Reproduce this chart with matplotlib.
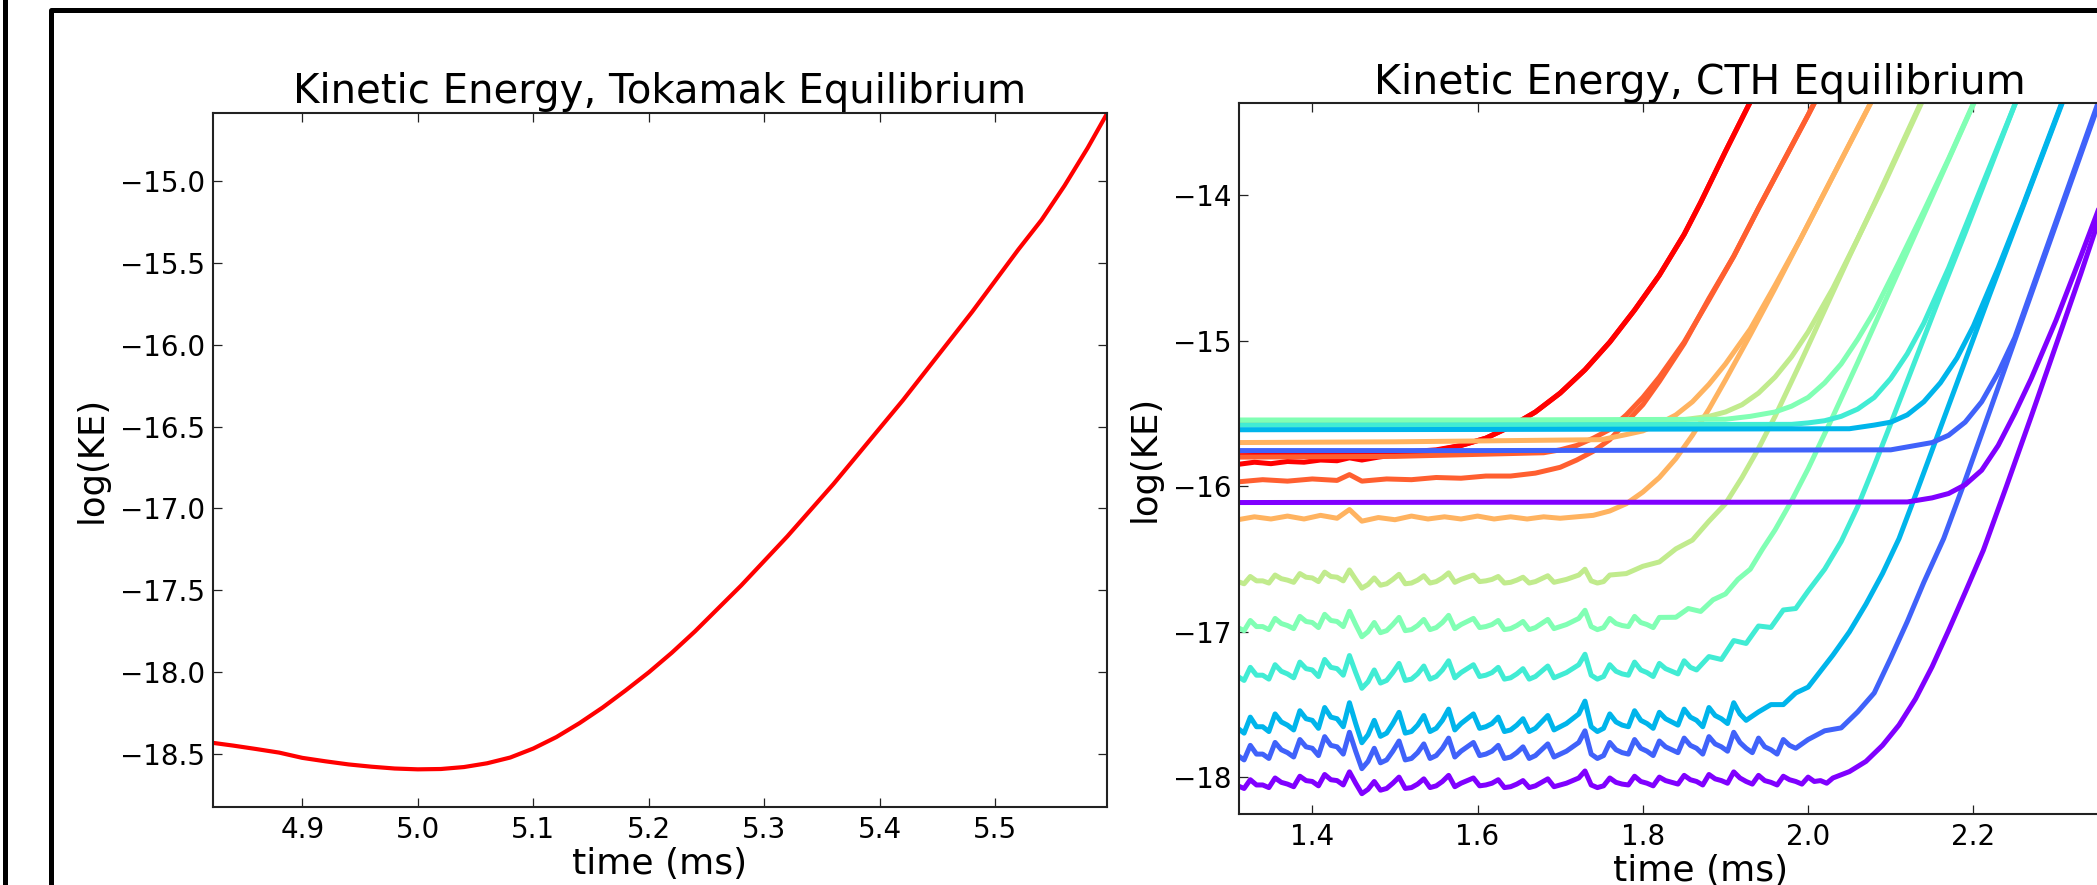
import matplotlib
matplotlib.use('Agg')
import matplotlib.pyplot as plt
from matplotlib.lines import Line2D

# ---- left panel: tokamak equilibrium ----
tok_t = [4.82, 4.84, 4.86, 4.88, 4.90, 4.92, 4.94, 4.96, 4.98, 5.00, 5.02, 5.04, 5.06, 5.08,
         5.10, 5.12, 5.14, 5.16, 5.18, 5.20, 5.22, 5.24, 5.26, 5.28, 5.30, 5.32, 5.34, 5.36,
         5.38, 5.40, 5.42, 5.44, 5.46, 5.48, 5.50, 5.52, 5.54, 5.56, 5.58, 5.60]
tok_ke = [-18.428, -18.447, -18.468, -18.49, -18.522, -18.543, -18.562, -18.576, -18.587, -18.592,
          -18.590, -18.578, -18.555, -18.52, -18.465, -18.395, -18.31, -18.215, -18.11, -18.0,
          -17.88, -17.75, -17.61, -17.47, -17.32, -17.17, -17.01, -16.85, -16.68, -16.51,
          -16.34, -16.16, -15.98, -15.80, -15.61, -15.42, -15.24, -15.03, -14.80, -14.55]

# ---- right panel: CTH equilibrium, one colour per run, two traces per run ----
# sample times of the noisy plateaus
fine_t = [1.3100, 1.3175, 1.3250, 1.3325, 1.3400, 1.3475, 1.3550, 1.3625, 1.3700, 1.3775,
          1.3850, 1.3925, 1.4000, 1.4075, 1.4150, 1.4225, 1.4300, 1.4375, 1.4450, 1.4525,
          1.4600, 1.4675, 1.4750, 1.4825, 1.4900, 1.4975, 1.5050, 1.5125, 1.5200, 1.5275,
          1.5350, 1.5425, 1.5500, 1.5575, 1.5650, 1.5725, 1.5800, 1.5875, 1.5950, 1.6025,
          1.6100, 1.6175, 1.6250, 1.6325, 1.6400, 1.6475, 1.6550, 1.6625, 1.6700, 1.6775,
          1.6850, 1.6925, 1.7000, 1.7075, 1.7150, 1.7225, 1.7300, 1.7375, 1.7450, 1.7525,
          1.7600, 1.7675, 1.7750, 1.7825, 1.7900, 1.7975, 1.8050, 1.8125, 1.8200, 1.8275,
          1.8350, 1.8425, 1.8500, 1.8575, 1.8650, 1.8725, 1.8800, 1.8875, 1.8950, 1.9025,
          1.9100, 1.9175, 1.9250, 1.9325, 1.9400, 1.9475, 1.9550, 1.9625, 1.9700, 1.9775,
          1.9850, 1.9925, 2.0000, 2.0075, 2.0150, 2.0225, 2.0300]

# red (1.0)
red_noisy_t = [1.31, 1.33, 1.35, 1.37, 1.39, 1.41, 1.43, 1.445, 1.46, 1.48, 1.50, 1.52, 1.55, 1.58,
               1.61, 1.64, 1.67, 1.70, 1.73, 1.76, 1.79, 1.82, 1.85, 1.87, 1.90, 1.93, 1.96]
red_noisy_y = [-15.85, -15.835, -15.845, -15.83, -15.835, -15.82, -15.825, -15.805, -15.82, -15.80,
               -15.785, -15.775, -15.755, -15.72, -15.67, -15.59, -15.49, -15.36, -15.20, -15.01,
               -14.79, -14.55, -14.27, -14.05, -13.70, -13.36, -13.02]
red_flat_t = [1.31, 1.40, 1.45, 1.50, 1.55, 1.58, 1.61, 1.64, 1.67, 1.70, 1.73, 1.76, 1.79, 1.82,
              1.85, 1.87, 1.90, 1.93, 1.96]
red_flat_y = [-15.79, -15.785, -15.78, -15.77, -15.75, -15.72, -15.67, -15.59, -15.49, -15.36,
              -15.20, -15.01, -14.79, -14.55, -14.27, -14.05, -13.70, -13.36, -13.02]

# orange-red (0.875)
or_noisy_t = [1.31, 1.34, 1.37, 1.40, 1.43, 1.445, 1.46, 1.49, 1.52, 1.55, 1.58, 1.61, 1.64, 1.67,
              1.70, 1.72, 1.74, 1.76, 1.78, 1.80, 1.82, 1.85, 1.88, 1.91, 1.94, 1.97, 2.00, 2.03]
or_noisy_y = [-15.97, -15.955, -15.965, -15.95, -15.96, -15.92, -15.965, -15.95, -15.955, -15.94,
              -15.945, -15.93, -15.93, -15.91, -15.87, -15.82, -15.76, -15.68, -15.56, -15.44,
              -15.28, -15.02, -14.71, -14.42, -14.09, -13.77, -13.45, -13.12]
or_flat_t = [1.31, 1.50, 1.68, 1.70, 1.72, 1.74, 1.76, 1.78, 1.80, 1.82, 1.85, 1.88, 1.91, 1.94,
             1.97, 2.00, 2.03]
or_flat_y = [-15.80, -15.795, -15.77, -15.75, -15.72, -15.67, -15.61, -15.51, -15.39, -15.25,
             -15.01, -14.72, -14.42, -14.09, -13.77, -13.45, -13.12]

# light orange (0.75)
lo_noisy_t = [1.31, 1.33, 1.35, 1.37, 1.39, 1.41, 1.43, 1.445, 1.46, 1.48, 1.50, 1.52, 1.54, 1.56,
              1.58, 1.60, 1.62, 1.64, 1.66, 1.68, 1.70, 1.72, 1.74, 1.76, 1.78, 1.80, 1.82, 1.84,
              1.86, 1.88, 1.90, 1.93, 1.96, 1.99, 2.02, 2.05, 2.08, 2.11]
lo_noisy_y = [-16.23, -16.21, -16.225, -16.205, -16.225, -16.20, -16.22, -16.16, -16.24, -16.215,
              -16.23, -16.205, -16.225, -16.21, -16.225, -16.205, -16.225, -16.21, -16.225, -16.21,
              -16.22, -16.21, -16.20, -16.17, -16.12, -16.04, -15.94, -15.81, -15.65, -15.47,
              -15.27, -14.96, -14.64, -14.31, -13.98, -13.65, -13.32, -12.99]
lo_flat_t = [1.31, 1.50, 1.75, 1.78, 1.80, 1.82, 1.84, 1.86, 1.88, 1.90, 1.93, 1.96, 1.99, 2.02,
             2.05, 2.08, 2.11]
lo_flat_y = [-15.70, -15.695, -15.68, -15.645, -15.62, -15.57, -15.51, -15.42, -15.30, -15.16,
             -14.92, -14.62, -14.31, -13.98, -13.65, -13.32, -12.99]

# yellow-green (0.625)
yg_plateau = [-16.655, -16.67, -16.62, -16.65, -16.65, -16.665, -16.61, -16.635, -16.645, -16.66,
              -16.60, -16.625, -16.63, -16.655, -16.59, -16.62, -16.625, -16.65, -16.575, -16.64,
              -16.70, -16.675, -16.63, -16.68, -16.67, -16.64, -16.605, -16.67, -16.665, -16.645,
              -16.615, -16.665, -16.655, -16.63, -16.595, -16.66, -16.64, -16.625, -16.61, -16.655,
              -16.65, -16.64, -16.62, -16.665, -16.66, -16.645, -16.625, -16.665, -16.655, -16.635,
              -16.615, -16.66, -16.65, -16.64, -16.625, -16.61, -16.57, -16.65, -16.665, -16.655,
              -16.61]
yg_rise_t = [1.78, 1.80, 1.82, 1.84, 1.86, 1.88, 1.90, 1.92, 1.94, 1.96, 1.99, 2.02, 2.05, 2.08,
             2.11, 2.14, 2.17]
yg_rise_y = [-16.60, -16.55, -16.52, -16.43, -16.37, -16.24, -16.12, -15.94, -15.74, -15.52,
             -15.16, -14.79, -14.42, -14.06, -13.69, -13.32, -12.95]
yg_flat_t = [1.31, 1.60, 1.84, 1.88, 1.90, 1.92, 1.94, 1.96, 1.98, 2.00, 2.03, 2.06, 2.09, 2.12, 2.15]
yg_flat_y = [-15.555, -15.555, -15.55, -15.52, -15.49, -15.44, -15.36, -15.25, -15.11, -14.94,
             -14.64, -14.30, -13.95, -13.58, -13.21]

# light green (0.5)
lg_plateau = [-16.971, -16.992, -16.922, -16.964, -16.964, -16.985, -16.908, -16.943, -16.957, -16.978,
              -16.894, -16.929, -16.936, -16.971, -16.88, -16.922, -16.929, -16.964, -16.859, -16.95,
              -17.034, -16.999, -16.936, -17.006, -16.992, -16.95, -16.901, -16.992, -16.985, -16.957,
              -16.915, -16.985, -16.971, -16.936, -16.887, -16.978, -16.95, -16.929, -16.908, -16.971,
              -16.964, -16.95, -16.922, -16.985, -16.978, -16.957, -16.929, -16.985, -16.971, -16.943,
              -16.915, -16.978, -16.964, -16.95, -16.929, -16.908, -16.852, -16.964, -16.985, -16.971,
              -16.908, -16.943, -16.957, -16.964, -16.894, -16.936, -16.95, -16.971, -16.901]
lg_rise_t = [1.84, 1.855, 1.87, 1.885, 1.90, 1.915, 1.93, 1.945, 1.96, 1.98, 2.00, 2.03, 2.06, 2.09,
             2.12, 2.15, 2.18, 2.21, 2.24]
lg_rise_y = [-16.90, -16.84, -16.86, -16.78, -16.74, -16.64, -16.57, -16.43, -16.30, -16.10, -15.88,
             -15.52, -15.15, -14.77, -14.39, -14.01, -13.63, -13.25, -12.87]
lg_flat_t = [1.31, 1.60, 1.90, 1.93, 1.96, 1.98, 2.00, 2.02, 2.04, 2.06, 2.08, 2.11, 2.14, 2.17,
             2.20, 2.23]
lg_flat_y = [-15.545, -15.545, -15.54, -15.52, -15.49, -15.45, -15.39, -15.29, -15.16, -14.99,
             -14.80, -14.46, -14.11, -13.75, -13.37, -12.99]

# turquoise (0.375)
tq_plateau = [-17.307, -17.334, -17.244, -17.298, -17.298, -17.325, -17.226, -17.271, -17.289, -17.316,
              -17.208, -17.253, -17.262, -17.307, -17.19, -17.244, -17.253, -17.298, -17.163, -17.28,
              -17.388, -17.343, -17.262, -17.352, -17.334, -17.28, -17.217, -17.334, -17.325, -17.289,
              -17.235, -17.325, -17.307, -17.262, -17.199, -17.316, -17.28, -17.253, -17.226, -17.307,
              -17.298, -17.28, -17.244, -17.325, -17.316, -17.289, -17.253, -17.325, -17.307, -17.271,
              -17.235, -17.316, -17.298, -17.28, -17.253, -17.226, -17.154, -17.298, -17.325, -17.307,
              -17.226, -17.271, -17.289, -17.298, -17.208, -17.262, -17.28, -17.307, -17.217, -17.253,
              -17.271, -17.289, -17.199, -17.244, -17.262]
tq_rise_t = [1.88, 1.895, 1.91, 1.925, 1.94, 1.955, 1.97, 1.985, 2.00, 2.02, 2.04, 2.06, 2.08, 2.10,
             2.13, 2.16, 2.19, 2.22, 2.25, 2.28]
tq_rise_y = [-17.17, -17.19, -17.06, -17.08, -16.96, -16.97, -16.85, -16.84, -16.72, -16.57, -16.38,
             -16.14, -15.86, -15.57, -15.13, -14.69, -14.26, -13.82, -13.38, -12.95]
tq_flat_t = [1.31, 1.60, 1.98, 2.00, 2.02, 2.04, 2.06, 2.08, 2.10, 2.12, 2.14, 2.17, 2.20, 2.23,
             2.26, 2.29]
tq_flat_y = [-15.58, -15.578, -15.575, -15.565, -15.55, -15.52, -15.47, -15.39, -15.26, -15.09,
             -14.88, -14.50, -14.08, -13.66, -13.24, -12.82]

# deep sky blue (0.25)
db_plateau = [-17.663, -17.696, -17.586, -17.652, -17.652, -17.685, -17.564, -17.619, -17.641, -17.674,
              -17.542, -17.597, -17.608, -17.663, -17.52, -17.586, -17.597, -17.652, -17.487, -17.63,
              -17.762, -17.707, -17.608, -17.718, -17.696, -17.63, -17.553, -17.696, -17.685, -17.641,
              -17.575, -17.685, -17.663, -17.608, -17.531, -17.674, -17.63, -17.597, -17.564, -17.663,
              -17.652, -17.63, -17.586, -17.685, -17.674, -17.641, -17.597, -17.685, -17.663, -17.619,
              -17.575, -17.674, -17.652, -17.63, -17.597, -17.564, -17.476, -17.652, -17.685, -17.663,
              -17.564, -17.619, -17.641, -17.652, -17.542, -17.608, -17.63, -17.663, -17.553, -17.597,
              -17.619, -17.641, -17.531, -17.586, -17.608, -17.652, -17.52, -17.575, -17.597, -17.63,
              -17.487, -17.564, -17.608]
db_rise_t = [1.94, 1.955, 1.97, 1.985, 2.00, 2.015, 2.03, 2.05, 2.07, 2.09, 2.11, 2.13, 2.16, 2.19,
             2.22, 2.25, 2.28, 2.31, 2.34]
db_rise_y = [-17.55, -17.50, -17.50, -17.42, -17.38, -17.27, -17.16, -17.00, -16.81, -16.60, -16.36,
             -16.06, -15.60, -15.14, -14.68, -14.23, -13.78, -13.33, -12.88]
db_flat_t = [1.31, 1.60, 2.05, 2.08, 2.10, 2.12, 2.14, 2.16, 2.18, 2.20, 2.23, 2.26, 2.29, 2.32, 2.35]
db_flat_y = [-15.612, -15.61, -15.605, -15.58, -15.56, -15.51, -15.42, -15.29, -15.12, -14.90,
             -14.50, -14.07, -13.62, -13.17, -12.72]

# royal blue (0.125)
rb_plateau = [-17.85, -17.88, -17.78, -17.84, -17.84, -17.87, -17.76, -17.81, -17.83, -17.86,
              -17.74, -17.79, -17.80, -17.85, -17.72, -17.78, -17.79, -17.84, -17.69, -17.82,
              -17.94, -17.89, -17.80, -17.90, -17.88, -17.82, -17.75, -17.88, -17.87, -17.83,
              -17.77, -17.87, -17.85, -17.80, -17.73, -17.86, -17.82, -17.79, -17.76, -17.85,
              -17.84, -17.82, -17.78, -17.87, -17.86, -17.83, -17.79, -17.87, -17.85, -17.81,
              -17.77, -17.86, -17.84, -17.82, -17.79, -17.76, -17.68, -17.84, -17.87, -17.85,
              -17.76, -17.81, -17.83, -17.84, -17.74, -17.80, -17.82, -17.85, -17.75, -17.79,
              -17.81, -17.83, -17.73, -17.78, -17.80, -17.84, -17.72, -17.77, -17.79, -17.82,
              -17.69, -17.76, -17.80, -17.83, -17.73, -17.79, -17.81, -17.84, -17.74, -17.78,
              -17.80]
rb_rise_t = [2.00, 2.02, 2.04, 2.06, 2.08, 2.10, 2.12, 2.14, 2.164, 2.19, 2.22, 2.25, 2.28, 2.31,
             2.34, 2.37, 2.40]
rb_rise_y = [-17.74, -17.68, -17.66, -17.55, -17.42, -17.18, -16.93, -16.66, -16.36, -15.96, -15.48,
             -15.00, -14.52, -14.04, -13.56, -13.08, -12.60]
rb_flat_t = [1.31, 1.60, 2.10, 2.13, 2.15, 2.17, 2.19, 2.21, 2.23, 2.25, 2.28, 2.31, 2.34, 2.37, 2.40]
rb_flat_y = [-15.755, -15.755, -15.75, -15.72, -15.70, -15.65, -15.56, -15.42, -15.22, -14.98,
             -14.50, -14.02, -13.54, -13.06, -12.58]

# purple (0.0)
pu_plateau = [-18.058, -18.076, -18.016, -18.052, -18.052, -18.07, -18.004, -18.034, -18.046, -18.064,
              -17.992, -18.022, -18.028, -18.058, -17.98, -18.016, -18.022, -18.052, -17.962, -18.04,
              -18.112, -18.082, -18.028, -18.088, -18.076, -18.04, -17.998, -18.076, -18.07, -18.046,
              -18.01, -18.07, -18.058, -18.028, -17.986, -18.064, -18.04, -18.022, -18.004, -18.058,
              -18.052, -18.04, -18.016, -18.07, -18.064, -18.046, -18.022, -18.07, -18.058, -18.034,
              -18.01, -18.064, -18.052, -18.04, -18.022, -18.004, -17.956, -18.052, -18.07, -18.058,
              -18.004, -18.034, -18.046, -18.052, -17.992, -18.028, -18.04, -18.058, -17.998, -18.022,
              -18.034, -18.046, -17.986, -18.016, -18.028, -18.052, -17.98, -18.01, -18.022, -18.04,
              -17.962, -18.004, -18.028, -18.046, -17.986, -18.022, -18.034, -18.052, -17.992, -18.016,
              -18.028, -18.046, -17.998, -18.028, -18.022, -18.04, -18.004]
pu_rise_t = [2.05, 2.07, 2.09, 2.11, 2.13, 2.15, 2.17, 2.19, 2.212, 2.24, 2.27, 2.30, 2.33, 2.35,
             2.38, 2.41, 2.44]
pu_rise_y = [-17.96, -17.89, -17.78, -17.64, -17.46, -17.24, -16.99, -16.73, -16.44, -16.00, -15.52,
             -15.03, -14.54, -14.20, -13.72, -13.23, -12.75]
pu_flat_t = [1.31, 1.60, 1.90, 2.12, 2.15, 2.17, 2.19, 2.21, 2.23, 2.25, 2.27, 2.30, 2.33, 2.36,
             2.39, 2.42, 2.45]
pu_flat_y = [-16.112, -16.11, -16.11, -16.108, -16.08, -16.05, -15.99, -15.89, -15.72, -15.50,
             -15.26, -14.86, -14.42, -13.97, -13.50, -13.03, -12.55]

cmap_vals = [1.0, 0.875, 0.75, 0.625, 0.5, 0.375, 0.25, 0.125, 0.0]

runs = [
    (red_noisy_t, red_noisy_y, red_flat_t, red_flat_y),
    (or_noisy_t, or_noisy_y, or_flat_t, or_flat_y),
    (lo_noisy_t, lo_noisy_y, lo_flat_t, lo_flat_y),
    (fine_t[:len(yg_plateau)] + yg_rise_t, yg_plateau + yg_rise_y, yg_flat_t, yg_flat_y),
    (fine_t[:len(lg_plateau)] + lg_rise_t, lg_plateau + lg_rise_y, lg_flat_t, lg_flat_y),
    (fine_t[:len(tq_plateau)] + tq_rise_t, tq_plateau + tq_rise_y, tq_flat_t, tq_flat_y),
    (fine_t[:len(db_plateau)] + db_rise_t, db_plateau + db_rise_y, db_flat_t, db_flat_y),
    (fine_t[:len(rb_plateau)] + rb_rise_t, rb_plateau + rb_rise_y, rb_flat_t, rb_flat_y),
    (fine_t[:len(pu_plateau)] + pu_rise_t, pu_plateau + pu_rise_y, pu_flat_t, pu_flat_y),
]

W, H = 2097.0, 885.0


def px_box(x0, y0, x1, y1):
    # pixel box (left, top, right, bottom) -> figure fraction rect
    return [x0 / W, 1 - y1 / H, (x1 - x0) / W, (y1 - y0) / H]


def style(ax):
    for s in ax.spines.values():
        s.set_linewidth(1.5)
        s.set_color('#222222')
    ax.tick_params(direction='in', length=6.5, width=0.9, top=True, right=True,
                   labelsize=20, color='#222222', labelcolor='black')
    ax.tick_params(axis='x', pad=7)
    ax.tick_params(axis='y', pad=5.5)


fig = plt.figure(figsize=(20.97, 8.85), dpi=100)
fig.patch.set_facecolor('white')

ax1 = fig.add_axes(px_box(212.7, 112.7, 1107.3, 806.7))
ax2 = fig.add_axes(px_box(1239.3, 103.5, 2161, 813.5))

# left
ax1.plot(tok_t, tok_ke, color='red', lw=3)
ax1.set_xlim(4.8224, 5.597)
ax1.set_ylim(-18.82, -14.585)
ax1.set_xticks([4.9, 5.0, 5.1, 5.2, 5.3, 5.4, 5.5])
ax1.set_yticks([-15.0, -15.5, -16.0, -16.5, -17.0, -17.5, -18.0, -18.5])
style(ax1)
ax1.set_title('Kinetic Energy, Tokamak Equilibrium', fontsize=29, pad=6.7)
ax1.set_xlabel('time (ms)', fontsize=26, labelpad=2)
ax1.set_ylabel('log(KE)', fontsize=25.5, labelpad=8)

# right
for v, (nt, ny, ft, fy) in zip(cmap_vals, runs):
    c = plt.cm.rainbow(v)
    ax2.plot(nt, ny, color=c, lw=3.6)
    ax2.plot(ft, fy, color=c, lw=3.6)
ax2.set_xlim(1.3117, 2.427)
ax2.set_ylim(-18.248, -13.371)
ax2.set_xticks([1.4, 1.6, 1.8, 2.0, 2.2])
ax2.set_yticks([-14, -15, -16, -17, -18])
style(ax2)
ax2.set_title('Kinetic Energy, CTH Equilibrium', fontsize=29.5, pad=6.5)
ax2.set_xlabel('time (ms)', fontsize=26, labelpad=2)
ax2.set_ylabel('log(KE)', fontsize=25.5, labelpad=8)

# slide frame around the figure
fig.add_artist(Line2D([4.5 / W, 4.5 / W], [-0.01, 1.01], transform=fig.transFigure,
                      color='black', lw=3.6))
fig.add_artist(Line2D([50.8 / W, 50.8 / W, 1.01], [-0.01, 1 - 9.8 / H, 1 - 9.8 / H],
                      transform=fig.transFigure, color='black', lw=3.6,
                      solid_joinstyle='round'))

fig.savefig('out.png', dpi=100)
